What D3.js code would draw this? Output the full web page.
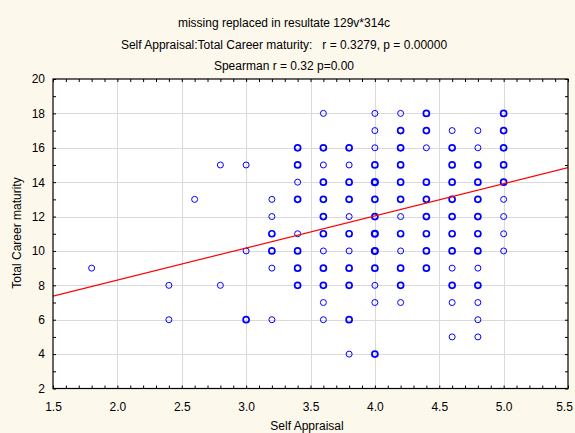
<!DOCTYPE html>
<html>
<head>
<meta charset="utf-8">
<script src="https://cdn.jsdelivr.net/npm/d3@7"></script>
<style>
  html, body { margin: 0; padding: 0; background: #fdf8ec; }
  svg { display: block; font-family: "Liberation Sans", Arial, sans-serif; }
  text { white-space: pre; }
</style>
</head>
<body>
<svg id="chart" width="575" height="433"></svg>
<script>
// ---- data ----
const titleLines = [
  "missing replaced in resultate 129v*314c",
  "Self Appraisal:Total Career maturity:   r = 0.3279, p = 0.00000",
  "Spearman r = 0.32 p=0.00"
];
const xLabel = "Self Appraisal";
const yLabel = "Total Career maturity";
const xTickLabels = [1.5, 2.0, 2.5, 3.0, 3.5, 4.0, 4.5, 5.0, 5.5];
const yTickLabels = [2, 4, 6, 8, 10, 12, 14, 16, 18, 20];

// Self Appraisal value, Total Career maturity value, number of overlapping cases
const selfAppraisal = [
  1.8,
  2.4, 2.4,
  2.6,
  2.8, 2.8,
  3.0, 3.0, 3.0,
  3.2, 3.2, 3.2, 3.2, 3.2, 3.2,
  3.4, 3.4, 3.4, 3.4, 3.4, 3.4, 3.4, 3.4,
  3.6, 3.6, 3.6, 3.6, 3.6, 3.6, 3.6, 3.6, 3.6, 3.6, 3.6, 3.6,
  3.8, 3.8, 3.8, 3.8, 3.8, 3.8, 3.8, 3.8, 3.8, 3.8, 3.8,
  4.0, 4.0, 4.0, 4.0, 4.0, 4.0, 4.0, 4.0, 4.0, 4.0, 4.0, 4.0, 4.0,
  4.2, 4.2, 4.2, 4.2, 4.2, 4.2, 4.2, 4.2, 4.2, 4.2, 4.2, 4.2,
  4.4, 4.4, 4.4, 4.4, 4.4, 4.4, 4.4, 4.4, 4.4,
  4.6, 4.6, 4.6, 4.6, 4.6, 4.6, 4.6, 4.6, 4.6, 4.6, 4.6, 4.6,
  4.8, 4.8, 4.8, 4.8, 4.8, 4.8, 4.8, 4.8, 4.8, 4.8, 4.8, 4.8, 4.8,
  5.0, 5.0, 5.0, 5.0, 5.0, 5.0, 5.0, 5.0, 5.0
];
const careerMaturity = [
  9,
  8, 6,
  13,
  15, 8,
  15, 10, 6,
  13, 12, 11, 10, 9, 6,
  16, 15, 14, 13, 11, 10, 9, 8,
  18, 16, 15, 14, 13, 12, 11, 10, 9, 8, 7, 6,
  16, 15, 14, 13, 12, 11, 10, 9, 8, 6, 4,
  18, 17, 16, 15, 14, 13, 12, 11, 10, 9, 8, 7, 4,
  18, 17, 16, 15, 14, 13, 12, 11, 10, 9, 8, 7,
  18, 17, 16, 14, 13, 12, 11, 10, 9,
  17, 16, 15, 14, 13, 12, 11, 10, 9, 8, 7, 5,
  17, 16, 15, 14, 13, 12, 11, 10, 9, 8, 7, 6, 5,
  18, 17, 16, 15, 14, 13, 12, 11, 10
];
const caseCounts = [
  1,
  1, 1,
  1,
  1, 1,
  1, 1, 2,
  1, 1, 2, 2, 1, 1,
  2, 2, 1, 2, 1, 2, 2, 2,
  1, 2, 1, 2, 2, 2, 2, 1, 2, 2, 1, 1,
  2, 1, 2, 2, 1, 2, 1, 2, 2, 2, 1,
  1, 1, 1, 2, 3, 2, 2, 3, 3, 2, 1, 1, 2,
  1, 2, 2, 2, 2, 2, 1, 2, 1, 2, 2, 1,
  2, 2, 1, 2, 2, 2, 2, 2, 2,
  1, 2, 2, 2, 2, 2, 2, 2, 1, 2, 1, 1,
  1, 1, 2, 2, 2, 2, 2, 2, 1, 2, 1, 1, 1,
  2, 2, 2, 2, 2, 1, 1, 1, 1
];
// fitted linear regression: maturity = intercept + slope * appraisal
const regIntercept = 4.57;
const regSlope = 1.8675;

// ---- layout ----
const W = 575, H = 433;
const plot = { left: 53, right: 568, top: 79, bottom: 388.5 };
const svg = d3.select("#chart");

svg.append("rect").attr("width", W).attr("height", H).attr("fill", "#fdf8ec");

const x = d3.scaleLinear().domain([1.5, 5.5]).range([plot.left, plot.right]);
const y = d3.scaleLinear().domain([2, 20]).range([plot.bottom, plot.top]);

svg.append("rect")
  .attr("x", plot.left).attr("y", plot.top)
  .attr("width", plot.right - plot.left).attr("height", plot.bottom - plot.top)
  .attr("fill", "#ffffff");

// grid
const gridX = xTickLabels.slice(1, -1);
const gridY = yTickLabels.slice(1, -1);
const grid = svg.append("g").attr("stroke", "#dadada").attr("stroke-width", 1);
grid.selectAll("line.gx").data(gridX).join("line")
  .attr("x1", d => Math.round(x(d)) + 0.5).attr("x2", d => Math.round(x(d)) + 0.5)
  .attr("y1", plot.top).attr("y2", plot.bottom);
grid.selectAll("line.gy").data(gridY).join("line")
  .attr("y1", d => Math.round(y(d)) + 0.5).attr("y2", d => Math.round(y(d)) + 0.5)
  .attr("x1", plot.left).attr("x2", plot.right);

// clip
svg.append("clipPath").attr("id", "clip").append("rect")
  .attr("x", plot.left).attr("y", plot.top)
  .attr("width", plot.right - plot.left).attr("height", plot.bottom - plot.top);

// points
const pts = selfAppraisal.map((v, i) => ({ x: v, y: careerMaturity[i], n: caseCounts[i] }));
svg.append("g").attr("clip-path", "url(#clip)")
  .selectAll("circle").data(pts).join("circle")
  .attr("cx", d => x(d.x)).attr("cy", d => y(d.y)).attr("r", 3)
  .attr("fill", "none").attr("stroke", "#0000ff")
  .attr("stroke-width", d => d.n === 1 ? 1 : (d.n === 2 ? 1.7 : 2.1));

// regression line
const xd = x.domain();
svg.append("g").attr("clip-path", "url(#clip)")
  .append("line")
  .attr("x1", x(xd[0])).attr("y1", y(regIntercept + regSlope * xd[0]))
  .attr("x2", x(xd[1])).attr("y2", y(regIntercept + regSlope * xd[1]))
  .attr("stroke", "#ff0000").attr("stroke-width", 1.2);

// axes
const xMinor = d3.range(15, 56).map(v => v / 10);
const yMinor = d3.range(2, 21);
const tickLen = 3;

function styleAxis(g) {
  g.select(".domain").remove();
  g.selectAll(".tick line").attr("stroke", "#000");
  g.selectAll("text").attr("fill", "#000").attr("font-size", 12)
    .attr("font-family", "Liberation Sans, Arial, sans-serif");
}

svg.append("g").attr("transform", `translate(0,${plot.bottom})`)
  .call(d3.axisBottom(x).tickValues(xMinor).tickSize(-tickLen).tickFormat(""))
  .call(styleAxis);
svg.append("g").attr("transform", `translate(0,${plot.top})`)
  .call(d3.axisTop(x).tickValues(xMinor).tickSize(-tickLen).tickFormat(""))
  .call(styleAxis);
svg.append("g").attr("transform", `translate(${plot.left},0)`)
  .call(d3.axisLeft(y).tickValues(yMinor).tickSize(-tickLen).tickFormat(""))
  .call(styleAxis);
svg.append("g").attr("transform", `translate(${plot.right},0)`)
  .call(d3.axisRight(y).tickValues(yMinor).tickSize(-tickLen).tickFormat(""))
  .call(styleAxis);

// labels
const xLab = svg.append("g").attr("transform", `translate(0,${plot.bottom})`)
  .call(d3.axisBottom(x).tickValues(xTickLabels).tickSize(0).tickPadding(14).tickFormat(d3.format(".1f")))
  .call(styleAxis);
// keep the last label inside the window, as in the reference
xLab.selectAll(".tick text").filter(d => d === xd[1]).attr("dx", -4);

svg.append("g").attr("transform", `translate(${plot.left},0)`)
  .call(d3.axisLeft(y).tickValues(yTickLabels).tickSize(0).tickPadding(8).tickFormat(d3.format("d")))
  .call(styleAxis);

// frame
svg.append("rect")
  .attr("x", plot.left).attr("y", plot.top)
  .attr("width", plot.right - plot.left).attr("height", plot.bottom - plot.top)
  .attr("fill", "none").attr("stroke", "#000").attr("stroke-width", 1.2);

// titles
const titleBaselines = [26.5, 48.5, 70];
svg.append("g").selectAll("text").data(titleLines).join("text")
  .attr("x", 284).attr("y", (d, i) => titleBaselines[i])
  .attr("text-anchor", "middle").attr("font-size", 12).attr("fill", "#000")
  .text(d => d);

svg.append("text").attr("x", 307).attr("y", 430)
  .attr("text-anchor", "middle").attr("font-size", 12).attr("fill", "#000")
  .text(xLabel);

svg.append("text")
  .attr("transform", "translate(21,233) rotate(-90)")
  .attr("text-anchor", "middle").attr("font-size", 12).attr("fill", "#000")
  .text(yLabel);
</script>
</body>
</html>
